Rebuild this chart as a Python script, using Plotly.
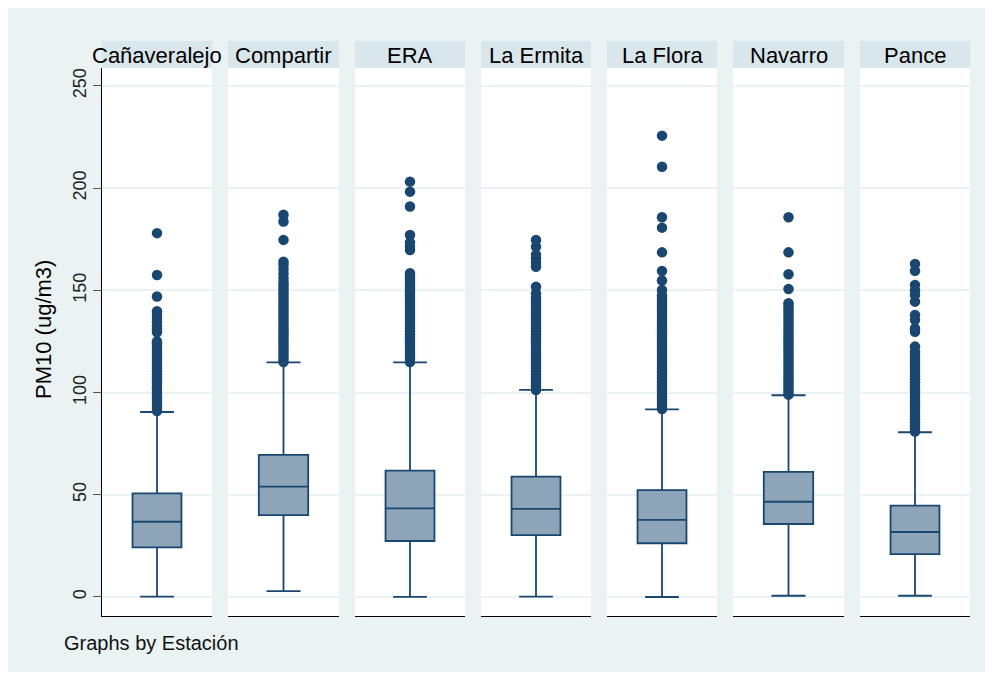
import plotly.graph_objects as go

OFF = 8
W, H = 993 - OFF, 673 - OFF

stations = ["Cañaveralejo", "Compartir", "ERA", "La Ermita", "La Flora", "Navarro", "Pance"]
q1 = [24.3, 40.1, 27.4, 30.3, 26.3, 35.7, 21.0]
median = [36.8, 54.0, 43.4, 43.1, 37.7, 46.6, 31.8]
q3 = [50.7, 69.5, 61.8, 58.9, 52.3, 61.2, 44.7]
lower = [0.2, 2.9, 0.1, 0.2, 0.0, 0.6, 0.6]
upper = [90.5, 114.8, 114.8, 101.3, 91.8, 98.7, 80.6]

out_cana = [91, 92.5, 94, 95.5, 97, 98.5, 100, 101.5, 103, 104.5, 106, 107.5, 109, 110.5,
            112, 113.5, 115, 116.5, 118, 119.5, 121, 122.5, 124, 125, 129.5, 131, 132.5,
            134.5, 136.5, 138, 139.8, 147, 157.5, 178]
out_comp = [115, 116.5, 118, 119.5, 121, 122.5, 124, 125.5, 127, 128.5, 130, 131.5, 133,
            134.5, 136, 137.5, 139, 140.5, 142, 143.5, 145, 146.5, 148, 149.5, 151, 152.5,
            154, 156, 158.3, 160.5, 162.5, 164, 174.7, 183.7, 187]
out_era = [115, 116.5, 118, 119.5, 121, 122.5, 124, 125.5, 127, 128.5, 130, 131.5, 133,
           134.5, 136, 137.5, 139, 140.5, 142, 143.5, 145, 146.5, 148, 149.5, 151, 152.5,
           154, 155.5, 157, 158.4, 169.8, 171.5, 173.5, 177.1, 191, 198.3, 203.2]
out_erm = [101.3, 103, 104.5, 106, 107.5, 109, 110.5, 112, 113.5, 115, 116.5, 118, 119.5,
           121, 122.5, 124, 125.5, 127, 128.5, 130, 131.5, 133, 134.5, 136, 137.5, 139,
           140.5, 142, 143.5, 145, 146.5, 148.6, 151.8, 161.6, 163.5, 165.7, 167.5,
           171.4, 174.7]
out_flo = [92, 93.5, 95, 96.5, 98, 99.5, 101, 102.5, 104, 105.5, 107, 108.5, 110, 111.5,
           113, 114.5, 116, 117.5, 119, 120.5, 122, 123.5, 125, 126.5, 128, 129.5, 131,
           132.5, 134, 135.5, 137, 138.5, 140, 141.5, 143, 144.5, 146, 147.5, 150.2,
           154.8, 159.5, 168.6, 180.7, 185.8, 210.5, 225.7]
out_nav = [99, 100.5, 102, 103.5, 105, 106.5, 108, 109.5, 111, 112.5, 114, 115.5, 117,
           118.5, 120, 121.5, 123, 124.5, 126, 127.5, 129, 130.5, 132, 133.5, 135, 136.5,
           138, 139.5, 141, 142.5, 143.7, 150.7, 157.9, 168.6, 185.8]
out_pan = [81, 82.5, 84, 85.5, 87, 88.5, 90, 91.5, 93, 94.5, 96, 97.5, 99, 100.5, 102,
           103.5, 105, 106.5, 108, 109.5, 111, 112.5, 114, 115.5, 117, 118.5, 120, 122.5,
           129.8, 131.4, 135.5, 138, 144.5, 147.7, 150, 152.6, 159.6, 162.9]
outliers = [out_cana, out_comp, out_era, out_erm, out_flo, out_nav, out_pan]

y_ticks = [0, 50, 100, 150, 200, 250]
y_title = "PM10 (ug/m3)"
note = "Graphs by Estación"

NAVY = "#1a476f"
FILL = "#8ea4b8"
BG = "#eaf2f3"
STRIP = "#d9e6eb"
GRID = "#eaf2f3"
FONT = "Liberation Sans, Arial, sans-serif"

panel_px = [(102, 212), (228, 339), (355, 465), (481, 591), (607, 717), (733, 844), (860, 970)]
top_px, bot_px = 68, 616
strip_top = 41

def px(x):
    return (x - OFF) / W

def py(y):
    return 1 - (y - OFF) / H

fig = go.Figure()
layout = dict(
    width=W, height=H, margin=dict(l=0, r=0, t=0, b=0),
    paper_bgcolor="white", plot_bgcolor="rgba(0,0,0,0)", showlegend=False,
    font=dict(family=FONT, color="black"),
)

shapes = [dict(type="rect", xref="paper", yref="paper", x0=px(6), x1=px(990), y0=py(672), y1=py(8),
               fillcolor=BG, line=dict(width=0), layer="below")]
annotations = []

for i, name in enumerate(stations):
    n = "" if i == 0 else str(i + 1)
    x0, x1 = panel_px[i]
    shapes.append(dict(type="rect", xref="paper", yref="paper", x0=px(x0), x1=px(x1),
                       y0=py(bot_px), y1=py(top_px), fillcolor="white", line=dict(width=0), layer="below"))
    shapes.append(dict(type="rect", xref="paper", yref="paper", x0=px(x0), x1=px(x1),
                       y0=py(top_px), y1=py(strip_top), fillcolor=STRIP, line=dict(width=0), layer="below"))
    annotations.append(dict(text=name, xref="paper", yref="paper", x=px((x0 + x1) / 2),
                            y=py((strip_top + top_px) / 2 + 0.5), showarrow=False,
                            font=dict(size=22, family=FONT, color="black"),
                            xanchor="center", yanchor="middle"))
    fig.add_trace(go.Box(
        x=[0], q1=[q1[i]], median=[median[i]], q3=[q3[i]],
        lowerfence=[lower[i]], upperfence=[upper[i]],
        orientation="v", width=0.445, whiskerwidth=0.69,
        fillcolor=FILL, line=dict(color=NAVY, width=1.8), boxpoints=False,
        xaxis="x" + n, yaxis="y" + n, hoverinfo="skip",
    ))
    fig.add_trace(go.Scatter(
        x=[0] * len(outliers[i]), y=outliers[i], mode="markers",
        marker=dict(color=NAVY, size=10.5, line=dict(width=0)),
        xaxis="x" + n, yaxis="y" + n, hoverinfo="skip",
    ))
    layout["xaxis" + n] = dict(
        domain=[px(x0), px(x1)], range=[-0.5, 0.5], anchor="y" + n,
        showgrid=False, zeroline=False, showticklabels=False, ticks="",
        showline=True, linecolor="black", linewidth=1.2, fixedrange=True,
    )
    ycfg = dict(
        domain=[py(bot_px), py(top_px)], range=[-9.3, 258.8], anchor="x" + n,
        tickvals=y_ticks, showgrid=True, gridcolor=GRID, gridwidth=1.5,
        zeroline=False, fixedrange=True,
    )
    if i == 0:
        ycfg.update(showline=True, linecolor="black", linewidth=1.2,
                    ticks="outside", ticklen=8, tickwidth=1.2, tickcolor="#555555",
                    tickangle=-90, tickfont=dict(size=18, family=FONT, color="#222222"),
                    showticklabels=True)
    else:
        ycfg.update(showline=False, ticks="", showticklabels=False)
    layout["yaxis" + n] = ycfg

annotations.append(dict(text=y_title, xref="paper", yref="paper", x=px(44), y=py((top_px + bot_px) / 2 - 12),
                        textangle=-90, showarrow=False, font=dict(size=22, family=FONT, color="black"),
                        xanchor="center", yanchor="middle"))
annotations.append(dict(text=note, xref="paper", yref="paper", x=px(62), y=py(643),
                        showarrow=False, font=dict(size=20, family=FONT, color="#111111"),
                        xanchor="left", yanchor="middle"))

layout["shapes"] = shapes
layout["annotations"] = annotations
fig.update_layout(**layout)
fig.write_html("out.html")
